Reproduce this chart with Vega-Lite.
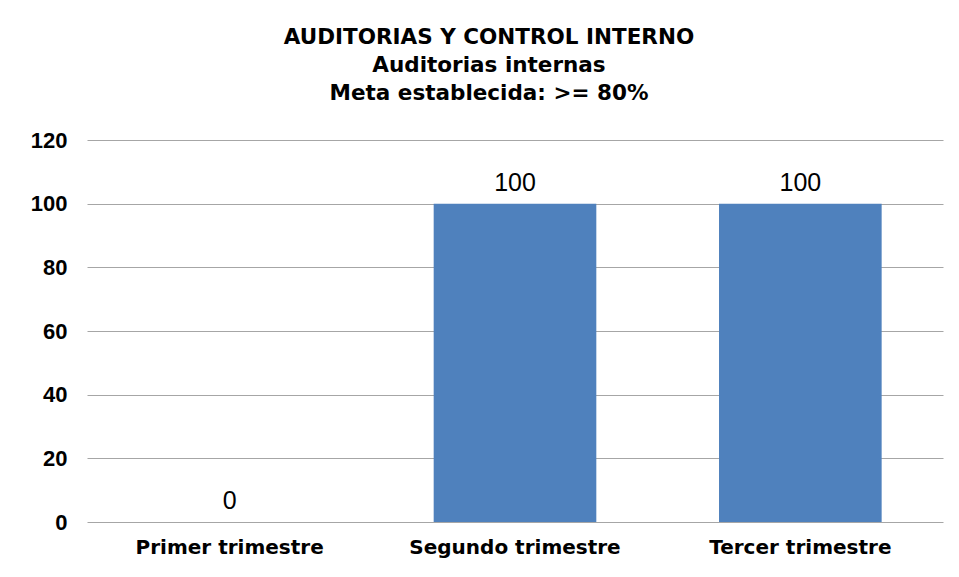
{
  "$schema": "https://vega.github.io/schema/vega-lite/v6.json",
  "width": 856,
  "height": 382,
  "autosize": "none",
  "padding": {"left": 87, "top": 140, "right": 16, "bottom": 55},
  "background": "white",
  "title": {
    "text": ["AUDITORIAS Y CONTROL INTERNO", "Auditorias internas", "Meta establecida: >= 80%"],
    "anchor": "middle",
    "dx": -26,
    "offset": 25,
    "font": "DejaVu Sans",
    "fontSize": 21.5,
    "fontWeight": "bold",
    "lineHeight": 28,
    "color": "black"
  },
  "data": {
    "values": [
      {"trimestre": "Primer trimestre", "valor": 0},
      {"trimestre": "Segundo trimestre", "valor": 100},
      {"trimestre": "Tercer trimestre", "valor": 100}
    ]
  },
  "encoding": {
    "x": {
      "field": "trimestre",
      "type": "nominal",
      "sort": null,
      "scale": {"paddingInner": 0.43, "paddingOuter": 0.215},
      "axis": {
        "title": null,
        "labelAngle": 0,
        "ticks": false,
        "domain": false,
        "labelPadding": 15,
        "labelLimit": 0,
        "labelFont": "DejaVu Sans",
        "labelFontSize": 20,
        "labelFontWeight": "bold",
        "labelColor": "black"
      }
    },
    "y": {
      "field": "valor",
      "type": "quantitative",
      "scale": {"domain": [0, 120], "nice": false},
      "axis": {
        "title": null,
        "values": [0, 20, 40, 60, 80, 100, 120],
        "ticks": false,
        "domain": false,
        "grid": true,
        "gridColor": "#A6A6A6",
        "gridWidth": 1,
        "labelPadding": 20,
        "labelFont": "Liberation Sans",
        "labelFontSize": 22,
        "labelFontWeight": "bold",
        "labelColor": "black"
      }
    }
  },
  "layer": [
    {"mark": {"type": "bar", "color": "#4F81BD"}},
    {
      "mark": {"type": "text", "baseline": "alphabetic", "dy": -13, "font": "Liberation Sans", "fontSize": 25, "color": "black"},
      "encoding": {"text": {"field": "valor", "type": "quantitative"}}
    }
  ],
  "config": {"view": {"stroke": null}}
}
